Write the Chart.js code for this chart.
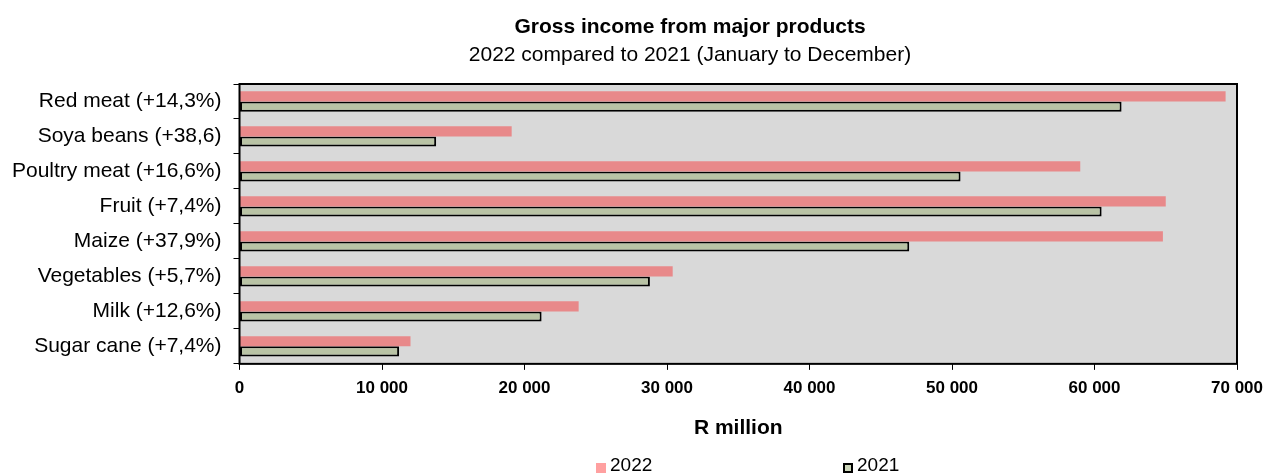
<!DOCTYPE html>
<html>
<head>
<meta charset="utf-8" />
<script src="https://cdn.jsdelivr.net/npm/chart.js@4/dist/chart.umd.min.js"></script>
<style>
  body {
    margin: 0;
    background: #fff;
    font-family: Arial, 'Liberation Sans', sans-serif;
  }
  .wrap {
    position: relative;
    width: 1266px;
    height: 475px;
  }
  .chart-title {
    position: absolute;
    left: 390px;
    width: 600px;
    text-align: center;
    color: #000;
    font-size: 21px;
    line-height: 24px;
    white-space: nowrap;
  }
  .chart-title.main {
    top: 14px;
    font-weight: bold;
  }
  .chart-title.sub {
    top: 42px;
  }
  .legend span {
    position: absolute;
    font-size: 19px;
    line-height: 22px;
    color: #000;
  }
  .legend .box {
    width: 10px;
    height: 10px;
    box-sizing: border-box;
  }
</style>
</head>
<body>
<div class="wrap">
  <canvas id="incomeChart" width="1266" height="475"></canvas>
  <div class="chart-title main">Gross income from major products</div>
  <div class="chart-title sub">2022 compared to 2021 (January to December)</div>
  <div class="legend"></div>
</div>
<script>
// ---------- data ----------
const categories = [
  'Red meat (+14,3%)',
  'Soya beans (+38,6)',
  'Poultry meat (+16,6%)',
  'Fruit (+7,4%)',
  'Maize (+37,9%)',
  'Vegetables (+5,7%)',
  'Milk (+12,6%)',
  'Sugar cane (+7,4%)',
];
const seriesNames = ['2022', '2021'];
// R million
const income2022 = [69200, 19100, 59000, 65000, 64800, 30400, 23800, 12000];
const income2021 = [61900, 13800, 50600, 60500, 47000, 28800, 21200, 11200];
const xTicks = [0, 10000, 20000, 30000, 40000, 50000, 60000, 70000];

// ---------- colours ----------
const pink = '#e8898a';
const green = '#b9c3a5';
const legendPink = '#ffa0a0';
const legendGreen = '#ccd6ba';
const plotGrey = '#d9d9d9';

// grey plot area + black frame
const plotFrame = {
  id: 'plotFrame',
  beforeDatasetsDraw(chart) {
    const { ctx, chartArea: a } = chart;
    ctx.save();
    ctx.fillStyle = plotGrey;
    ctx.fillRect(a.left, a.top, a.right - a.left, a.bottom - a.top);
    ctx.restore();
  },
  afterDraw(chart) {
    const { ctx, chartArea: a } = chart;
    ctx.save();
    ctx.strokeStyle = '#000';
    ctx.lineWidth = 2;
    ctx.strokeRect(a.left, a.top, a.right - a.left, a.bottom - a.top);
    ctx.restore();
  },
};

// 10000 -> "10 000"
function spaced(value) {
  return String(value).replace(/\B(?=(\d{3})+(?!\d))/g, ' ');
}

const data = {
  labels: categories,
  datasets: [
    {
      label: seriesNames[0],
      data: income2022,
      backgroundColor: pink,
      borderWidth: 0,
    },
    {
      label: seriesNames[1],
      data: income2021,
      backgroundColor: green,
      borderColor: '#000',
      borderWidth: 2,
      borderSkipped: false,
    },
  ],
};

const config = {
  type: 'bar',
  data: data,
  options: {
    indexAxis: 'y',
    responsive: false,
    animation: false,
    categoryPercentage: 0.58,
    barPercentage: 1,
    layout: {
      padding: { top: 84, left: 0, right: 0, bottom: 30 },
    },
    plugins: {
      legend: { display: false },
      title: { display: false },
      tooltip: { enabled: false },
    },
    scales: {
      x: {
        min: 0,
        max: 70000,
        afterBuildTicks: (axis) => {
          axis.ticks = xTicks.map((v) => ({ value: v }));
        },
        border: { display: false },
        grid: {
          drawOnChartArea: false,
          drawTicks: true,
          tickLength: 6,
          color: '#000',
        },
        ticks: {
          color: '#000',
          padding: 3,
          maxRotation: 0,
          font: {
            family: 'Arial, "Liberation Sans"',
            size: 17,
            weight: 'bold',
            lineHeight: 1.82,
          },
          callback: (value) => spaced(value),
        },
        title: {
          display: true,
          text: 'R million',
          color: '#000',
          padding: { top: 9, bottom: 4 },
          font: { family: 'Arial, "Liberation Sans"', size: 21, weight: 'bold' },
        },
      },
      y: {
        border: { display: false },
        grid: {
          offset: true,
          drawOnChartArea: false,
          drawTicks: true,
          tickLength: 6,
          color: '#000',
        },
        ticks: {
          color: '#000',
          padding: 12,
          font: { family: 'Arial, "Liberation Sans"', size: 21 },
        },
      },
    },
  },
  plugins: [plotFrame],
};

let incomeChart = new Chart(document.getElementById('incomeChart'), config);

// legend under the chart
function createLegend() {
  const legend = document.querySelector('.legend');
  const items = [
    { name: seriesNames[0], color: legendPink, border: 'none', x: 596 },
    { name: seriesNames[1], color: legendGreen, border: '2px solid #000', x: 843 },
  ];
  items.forEach((item) => {
    legend.innerHTML += `
      <span class="box" style="left:${item.x}px;top:463px;background:${item.color};border:${item.border}"></span>
      <span style="left:${item.x + 14}px;top:454px">${item.name}</span>`;
  });
}
createLegend();
</script>
</body>
</html>
